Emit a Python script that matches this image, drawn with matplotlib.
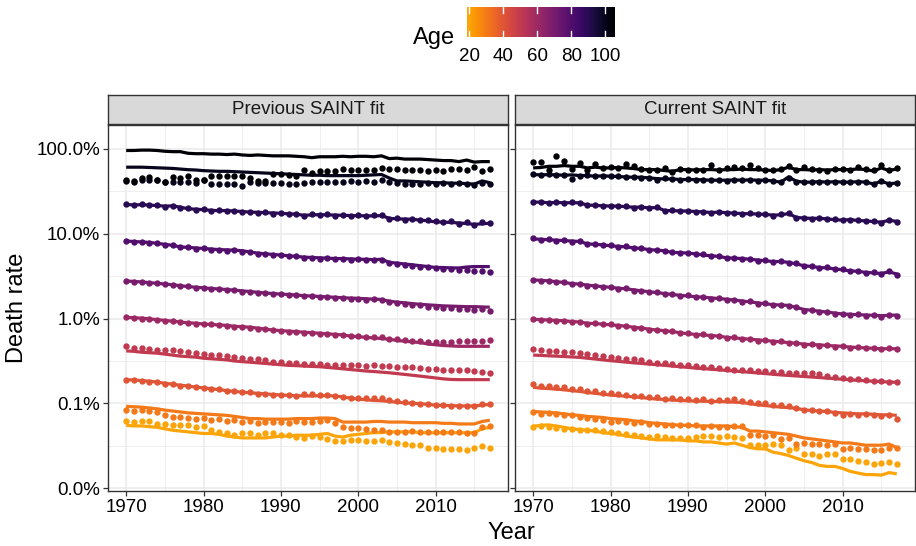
import matplotlib
matplotlib.use("Agg")
import matplotlib.pyplot as plt
import numpy as np
from matplotlib.colors import Normalize, ListedColormap
from matplotlib.ticker import FixedLocator, NullFormatter

plt.rcParams['font.family'] = ['Liberation Sans', 'DejaVu Sans']

# ---------------- data ----------------
years = list(range(1970, 2018))
ages = [20, 30, 40, 50, 60, 70, 80, 90, 100, 105]
panel_titles = ["Previous SAINT fit", "Current SAINT fit"]
y_tick_values = [0.0001, 0.001, 0.01, 0.1, 1.0]
y_tick_labels = ["0.0%", "0.1%", "1.0%", "10.0%", "100.0%"]
y_minor_values = [0.000316, 0.00316, 0.0316, 0.316]
x_tick_values = [1970, 1980, 1990, 2000, 2010]
x_minor_values = [1975, 1985, 1995, 2005, 2015]
legend_ticks = [20, 40, 60, 80, 100]

# death rates in percent, 1970..2017
# ---- Previous SAINT fit ----
prev_fit_105 = [96, 96, 97, 97, 96, 94, 93, 93, 89, 88,
                88, 87, 87, 86, 87, 85, 84, 85, 84, 83,
                83, 83, 82, 81, 79, 81, 81, 81, 82, 81,
                82, 82, 81, 83, 77, 78, 76, 76, 76, 75,
                74, 73, 73, 71, 74, 70, 71, 71]
prev_obs_105 = [42.5, 41.5, 45.6, 46.8, 43.6, 41.2, 46.8, 45.6, 47.7, 43.6,
                43.6, 47.7, 47.7, 47.7, 47.7, 47.7, 45.6, 41.5, 41.5, 51.3,
                51.3, 49.9, 48.6, 57.1, 52.2, 54.6, 54.6, 54.6, 58.2, 57.1,
                57.1, 57.1, 57.1, 59.3, 58.2, 58.2, 57.1, 56.1, 56.1, 55.6,
                57.1, 55.6, 58.7, 58.7, 56.1, 61.4, 55.6, 58.7]
prev_fit_100 = [61, 61, 61, 60.5, 60, 59.5, 59, 58, 57, 56.5,
                55.5, 55, 54.5, 54.5, 54, 53.5, 53, 52.5, 52, 51.5,
                51, 50.5, 50, 49.5, 49, 49, 48.5, 48.5, 48.5, 48.5,
                48.5, 49, 49.5, 50, 45.5, 42, 42, 41.5, 41, 40.5,
                40, 40, 39.5, 39.5, 39, 38.5, 42, 40]
prev_obs_100 = [41.7, 40.6, 42.8, 42.8, 42.8, 40.6, 40.6, 40.6, 40.6, 39.8,
                43.6, 39.1, 39.1, 39.1, 38.4, 37.0, 40.6, 39.8, 39.8, 39.8,
                39.8, 39.1, 39.1, 39.8, 40.6, 40.6, 40.6, 40.6, 41.2, 41.7,
                40.6, 41.7, 40.6, 43.6, 40.6, 39.8, 39.1, 39.1, 39.1, 39.8,
                39.1, 39.8, 39.1, 39.8, 38.4, 37.7, 39.8, 39.1]
prev_fit_90 = [22.1, 21.9, 22.0, 21.8, 21.5, 21.2, 21.3, 20.6, 19.7, 19.5,
               19.2, 18.9, 18.7, 18.8, 18.5, 18.3, 18.0, 17.9, 17.7, 17.6,
               17.4, 17.2, 17.0, 16.5, 16.7, 16.8, 16.7, 16.6, 16.5, 16.4,
               16.3, 16.3, 16.2, 16.4, 15.2, 15.0, 14.9, 14.8, 14.5, 14.2,
               13.8, 13.7, 13.6, 13.4, 13.2, 12.9, 13.1, 13.3]
prev_obs_90 = [22.3, 21.7, 22.2, 21.6, 21.8, 20.9, 21.4, 20.2, 19.9, 19.3,
               19.4, 18.7, 18.9, 18.5, 18.7, 18.0, 18.3, 17.6, 17.9, 17.3,
               17.6, 17.0, 17.2, 16.4, 16.9, 16.6, 16.9, 16.4, 16.8, 16.2,
               16.5, 16.1, 16.6, 16.8, 15.0, 15.4, 14.7, 15.0, 14.4, 14.5,
               14.1, 13.6, 14.0, 13.2, 13.7, 12.8, 13.6, 13.4]
prev_fit_80 = [8.2, 8.1, 8.0, 7.9, 7.7, 7.5, 7.3, 7.0, 6.9, 6.8,
               6.7, 6.6, 6.5, 6.45, 6.4, 6.3, 6.1, 5.9, 5.8, 5.7,
               5.6, 5.5, 5.4, 5.3, 5.25, 5.2, 5.15, 5.1, 5.1, 5.05,
               5.0, 5.0, 4.95, 5.0, 4.6, 4.5, 4.4, 4.3, 4.2, 4.1,
               4.0, 4.0, 3.95, 3.95, 4.05, 4.1, 4.1, 4.1]
prev_obs_80 = [8.3, 8.0, 8.1, 7.8, 7.7, 7.4, 7.3, 6.9, 6.9, 6.6,
               6.7, 6.5, 6.5, 6.3, 6.4, 6.1, 6.1, 5.8, 5.8, 5.6,
               5.6, 5.4, 5.4, 5.2, 5.2, 5.1, 5.15, 5.0, 5.1, 4.95,
               5.0, 4.9, 4.9, 4.9, 4.5, 4.4, 4.3, 4.2, 4.1, 4.0,
               3.95, 3.8, 3.85, 3.7, 3.75, 3.6, 3.65, 3.5]
prev_fit_70 = [2.77, 2.74, 2.70, 2.65, 2.60, 2.55, 2.50, 2.44, 2.38, 2.34,
               2.30, 2.26, 2.23, 2.20, 2.16, 2.12, 2.08, 2.04, 2.00, 1.97,
               1.94, 1.92, 1.89, 1.86, 1.84, 1.82, 1.80, 1.78, 1.76, 1.74,
               1.73, 1.71, 1.69, 1.68, 1.60, 1.56, 1.53, 1.50, 1.47, 1.45,
               1.43, 1.41, 1.40, 1.39, 1.38, 1.38, 1.37, 1.36]
prev_obs_70 = [2.78, 2.70, 2.69, 2.62, 2.61, 2.52, 2.49, 2.40, 2.39, 2.30,
               2.29, 2.22, 2.23, 2.15, 2.15, 2.08, 2.07, 2.00, 2.01, 1.94,
               1.94, 1.88, 1.88, 1.82, 1.82, 1.78, 1.79, 1.74, 1.75, 1.70,
               1.72, 1.67, 1.68, 1.66, 1.56, 1.52, 1.49, 1.45, 1.43, 1.38,
               1.38, 1.33, 1.34, 1.29, 1.31, 1.27, 1.28, 1.24]
prev_fit_60 = [1.03, 1.02, 1.01, 0.99, 0.97, 0.95, 0.93, 0.91, 0.89, 0.88,
               0.86, 0.85, 0.84, 0.83, 0.81, 0.80, 0.79, 0.77, 0.75, 0.73,
               0.72, 0.71, 0.70, 0.69, 0.68, 0.67, 0.66, 0.65, 0.64, 0.62,
               0.61, 0.60, 0.59, 0.58, 0.57, 0.55, 0.54, 0.53, 0.52, 0.50,
               0.49, 0.48, 0.475, 0.47, 0.47, 0.47, 0.47, 0.47]
prev_obs_60 = [1.03, 1.01, 1.00, 0.98, 0.96, 0.94, 0.93, 0.90, 0.88, 0.87,
               0.85, 0.85, 0.83, 0.82, 0.80, 0.79, 0.78, 0.76, 0.75, 0.73,
               0.72, 0.70, 0.70, 0.68, 0.68, 0.66, 0.66, 0.64, 0.64, 0.62,
               0.62, 0.61, 0.60, 0.60, 0.58, 0.57, 0.56, 0.55, 0.54, 0.53,
               0.53, 0.53, 0.53, 0.54, 0.54, 0.55, 0.55, 0.56]
prev_fit_50 = [0.415, 0.41, 0.40, 0.395, 0.39, 0.38, 0.37, 0.36, 0.355, 0.35,
               0.34, 0.335, 0.33, 0.325, 0.315, 0.31, 0.305, 0.30, 0.295, 0.29,
               0.285, 0.28, 0.278, 0.275, 0.272, 0.27, 0.265, 0.26, 0.255, 0.25,
               0.245, 0.24, 0.237, 0.233, 0.229, 0.224, 0.219, 0.214, 0.209, 0.204,
               0.199, 0.194, 0.191, 0.190, 0.190, 0.190, 0.190, 0.190]
prev_obs_50 = [0.47, 0.45, 0.45, 0.44, 0.43, 0.43, 0.42, 0.41, 0.40, 0.39,
               0.38, 0.37, 0.37, 0.36, 0.35, 0.34, 0.33, 0.33, 0.32, 0.31,
               0.31, 0.30, 0.30, 0.29, 0.29, 0.29, 0.28, 0.28, 0.28, 0.28,
               0.28, 0.275, 0.28, 0.275, 0.275, 0.27, 0.265, 0.265, 0.26, 0.255,
               0.255, 0.25, 0.25, 0.245, 0.245, 0.24, 0.235, 0.23]
prev_fit_40 = [0.19, 0.188, 0.185, 0.182, 0.178, 0.172, 0.168, 0.163, 0.16, 0.155,
               0.152, 0.148, 0.145, 0.141, 0.138, 0.135, 0.133, 0.131, 0.129, 0.127,
               0.125, 0.124, 0.123, 0.122, 0.122, 0.123, 0.123, 0.122, 0.119, 0.115,
               0.112, 0.11, 0.108, 0.107, 0.105, 0.103, 0.101, 0.1, 0.099, 0.097,
               0.095, 0.094, 0.094, 0.093, 0.093, 0.093, 0.095, 0.097]
prev_obs_40 = [0.19, 0.186, 0.185, 0.18, 0.18, 0.17, 0.17, 0.162, 0.161, 0.154,
               0.153, 0.146, 0.146, 0.14, 0.14, 0.134, 0.134, 0.13, 0.13, 0.125,
               0.125, 0.124, 0.122, 0.127, 0.127, 0.125, 0.126, 0.122, 0.119, 0.116,
               0.116, 0.115, 0.114, 0.115, 0.108, 0.105, 0.103, 0.101, 0.099, 0.097,
               0.096, 0.095, 0.094, 0.094, 0.093, 0.094, 0.097, 0.097]
prev_fit_30 = [0.092, 0.091, 0.090, 0.088, 0.086, 0.083, 0.081, 0.079, 0.077, 0.076,
               0.075, 0.074, 0.073, 0.072, 0.070, 0.068, 0.066, 0.066, 0.065, 0.065,
               0.065, 0.065, 0.066, 0.066, 0.066, 0.067, 0.067, 0.066, 0.060, 0.060,
               0.060, 0.060, 0.061, 0.061, 0.060, 0.060, 0.060, 0.059, 0.059, 0.059,
               0.059, 0.058, 0.058, 0.057, 0.057, 0.057, 0.061, 0.063]
prev_obs_30 = [0.084, 0.080, 0.084, 0.080, 0.079, 0.072, 0.068, 0.068, 0.067, 0.066,
               0.067, 0.064, 0.066, 0.061, 0.063, 0.060, 0.062, 0.059, 0.060, 0.060,
               0.060, 0.059, 0.061, 0.060, 0.060, 0.061, 0.063, 0.058, 0.053, 0.051,
               0.051, 0.050, 0.049, 0.048, 0.046, 0.046, 0.046, 0.047, 0.046, 0.046,
               0.046, 0.046, 0.046, 0.046, 0.045, 0.044, 0.052, 0.054]
prev_fit_20 = [0.055, 0.054, 0.054, 0.053, 0.052, 0.050, 0.048, 0.047, 0.046, 0.045,
               0.044, 0.044, 0.043, 0.041, 0.040, 0.039, 0.039, 0.039, 0.039, 0.040,
               0.041, 0.041, 0.042, 0.042, 0.042, 0.043, 0.044, 0.041, 0.040, 0.042,
               0.043, 0.044, 0.045, 0.045, 0.046, 0.046, 0.046, 0.046, 0.045, 0.045,
               0.045, 0.045, 0.045, 0.045, 0.045, 0.045, 0.050, 0.052]
prev_obs_20 = [0.061, 0.060, 0.061, 0.061, 0.057, 0.057, 0.056, 0.056, 0.055, 0.052,
               0.054, 0.048, 0.046, 0.045, 0.042, 0.044, 0.045, 0.042, 0.044, 0.044,
               0.042, 0.042, 0.040, 0.039, 0.041, 0.040, 0.038, 0.036, 0.036, 0.037,
               0.037, 0.036, 0.036, 0.037, 0.035, 0.034, 0.033, 0.032, 0.032, 0.030,
               0.030, 0.029, 0.029, 0.029, 0.028, 0.030, 0.031, 0.030]

# ---- Current SAINT fit ----
curr_fit_105 = [59.8, 60.5, 62.5, 62.5, 63.7, 62.5, 62.5, 59.8, 61.0, 59.8,
                59.8, 60.5, 59.8, 58.7, 57.1, 57.1, 57.1, 55.6, 54.6, 57.1,
                57.1, 56.5, 57.1, 57.1, 56.5, 57.1, 57.1, 58.0, 57.1, 57.1,
                56.5, 55.6, 57.1, 61.0, 57.1, 57.1, 56.5, 57.1, 56.5, 57.1,
                57.1, 57.1, 58.2, 57.1, 55.0, 59.8, 55.6, 58.2]
curr_obs_105 = [69.7, 69.7, 57.1, 82.0, 71.6, 58.0, 68.0, 57.1, 66.2, 59.8,
                61.0, 59.8, 66.9, 62.5, 58.2, 57.1, 57.1, 59.8, 53.4, 58.2,
                57.1, 57.1, 57.1, 64.6, 57.1, 59.8, 61.6, 59.8, 65.4, 59.8,
                57.1, 57.1, 58.2, 62.5, 57.1, 61.6, 58.2, 57.1, 54.6, 58.2,
                58.7, 57.1, 61.6, 58.2, 56.1, 64.1, 56.1, 59.8]
curr_fit_100 = [49.9, 49.5, 49.9, 49.5, 49.0, 49.5, 48.6, 48.6, 47.7, 48.2,
                47.7, 47.3, 46.8, 46.4, 46.4, 45.6, 44.7, 44.3, 44.3, 43.6,
                43.6, 43.6, 43.2, 42.8, 42.8, 42.8, 43.2, 42.8, 43.2, 42.8,
                42.8, 42.0, 40.6, 46.8, 41.7, 40.6, 40.6, 41.2, 40.6, 41.2,
                40.6, 40.6, 41.2, 40.6, 38.7, 41.7, 38.7, 39.8]
curr_obs_100 = [51.3, 49.5, 50.5, 49.5, 49.0, 44.3, 48.6, 49.0, 48.2, 47.7,
                47.7, 48.2, 46.4, 46.8, 46.0, 45.6, 43.6, 45.0, 44.3, 43.2,
                44.3, 43.2, 43.6, 43.2, 42.8, 42.4, 43.6, 42.8, 43.6, 42.4,
                42.8, 41.7, 40.6, 46.0, 41.2, 40.6, 41.2, 40.6, 41.2, 40.6,
                41.2, 40.6, 40.6, 40.6, 38.7, 42.4, 38.4, 39.8]
curr_fit_90 = [23.6, 23.6, 23.2, 23.4, 23.2, 23.2, 23.2, 21.8, 21.6, 21.4,
               21.2, 21.2, 20.8, 20.6, 20.6, 20.2, 20.4, 18.8, 18.7, 18.6,
               18.5, 18.3, 18.1, 17.8, 18.0, 17.7, 17.5, 17.3, 17.2, 17.1,
               16.9, 16.6, 16.7, 17.3, 15.6, 15.3, 15.2, 15.2, 15.0, 14.6,
               14.5, 14.7, 14.3, 14.2, 13.9, 13.7, 14.4, 14.0]
curr_obs_90 = [23.4, 23.8, 23.0, 23.6, 22.9, 23.4, 23.0, 21.6, 21.9, 21.2,
               21.4, 21.0, 21.0, 20.4, 20.8, 20.0, 20.5, 18.6, 18.9, 18.4,
               18.7, 18.1, 18.3, 17.6, 18.2, 17.5, 17.7, 17.1, 17.4, 16.9,
               17.1, 16.4, 16.9, 17.5, 15.4, 15.5, 15.0, 15.4, 14.8, 14.8,
               14.7, 14.5, 14.5, 14.0, 14.1, 13.5, 14.6, 13.8]
curr_fit_80 = [8.7, 8.6, 8.5, 8.4, 8.3, 8.2, 8.1, 7.6, 7.5, 7.4,
               7.2, 7.1, 7.0, 6.8, 6.7, 6.5, 6.4, 6.3, 6.0, 6.0,
               5.9, 5.8, 5.6, 5.5, 5.4, 5.2, 5.15, 5.1, 5.0, 4.9,
               4.8, 4.7, 4.7, 4.6, 4.4, 4.2, 4.1, 4.0, 3.95, 3.85,
               3.75, 3.65, 3.6, 3.5, 3.45, 3.4, 3.55, 3.35]
curr_obs_80 = [8.8, 8.5, 8.6, 8.3, 8.4, 8.1, 8.2, 7.6, 7.6, 7.3,
               7.3, 7.0, 7.1, 6.7, 6.8, 6.4, 6.5, 6.2, 6.1, 5.9,
               6.0, 5.7, 5.7, 5.4, 5.5, 5.2, 5.2, 5.0, 5.1, 4.8,
               4.9, 4.6, 4.8, 4.5, 4.5, 4.2, 4.2, 3.95, 4.0, 3.8,
               3.8, 3.6, 3.65, 3.45, 3.5, 3.35, 3.6, 3.3]
curr_fit_70 = [2.85, 2.82, 2.78, 2.72, 2.66, 2.58, 2.55, 2.48, 2.42, 2.38,
               2.33, 2.28, 2.24, 2.18, 2.12, 2.07, 2.02, 1.97, 1.92, 1.88,
               1.84, 1.81, 1.78, 1.75, 1.72, 1.69, 1.65, 1.61, 1.57, 1.53,
               1.49, 1.46, 1.44, 1.43, 1.35, 1.28, 1.25, 1.22, 1.19, 1.16,
               1.13, 1.12, 1.11, 1.10, 1.09, 1.08, 1.09, 1.10]
curr_obs_70 = [2.86, 2.78, 2.79, 2.68, 2.68, 2.53, 2.57, 2.44, 2.44, 2.34,
               2.35, 2.24, 2.26, 2.13, 2.14, 2.03, 2.05, 1.93, 1.94, 1.84,
               1.87, 1.77, 1.80, 1.71, 1.74, 1.65, 1.67, 1.57, 1.59, 1.49,
               1.51, 1.43, 1.46, 1.41, 1.36, 1.24, 1.26, 1.19, 1.20, 1.13,
               1.14, 1.10, 1.12, 1.07, 1.10, 1.05, 1.10, 1.08]
curr_fit_60 = [0.98, 0.97, 0.96, 0.95, 0.94, 0.92, 0.91, 0.88, 0.87, 0.86,
               0.84, 0.83, 0.81, 0.79, 0.77, 0.75, 0.73, 0.72, 0.70, 0.68,
               0.66, 0.65, 0.64, 0.63, 0.62, 0.60, 0.59, 0.58, 0.57, 0.56,
               0.55, 0.54, 0.53, 0.52, 0.51, 0.50, 0.49, 0.49, 0.48, 0.475,
               0.47, 0.46, 0.455, 0.45, 0.445, 0.44, 0.44, 0.44]
curr_obs_60 = [0.99, 0.96, 0.97, 0.94, 0.94, 0.91, 0.91, 0.87, 0.88, 0.85,
               0.85, 0.82, 0.82, 0.78, 0.78, 0.74, 0.74, 0.71, 0.71, 0.67,
               0.67, 0.64, 0.65, 0.62, 0.63, 0.59, 0.60, 0.57, 0.58, 0.55,
               0.56, 0.53, 0.54, 0.51, 0.52, 0.49, 0.50, 0.48, 0.49, 0.465,
               0.475, 0.45, 0.46, 0.445, 0.45, 0.435, 0.45, 0.44]
curr_fit_50 = [0.37, 0.367, 0.363, 0.36, 0.356, 0.352, 0.348, 0.34, 0.333, 0.325,
               0.318, 0.312, 0.306, 0.30, 0.295, 0.29, 0.285, 0.28, 0.275, 0.27,
               0.265, 0.26, 0.256, 0.252, 0.248, 0.244, 0.24, 0.236, 0.232, 0.228,
               0.224, 0.22, 0.216, 0.213, 0.21, 0.207, 0.204, 0.201, 0.198, 0.195,
               0.192, 0.189, 0.186, 0.184, 0.182, 0.18, 0.178, 0.177]
curr_obs_50 = [0.435, 0.42, 0.415, 0.41, 0.405, 0.40, 0.39, 0.38, 0.37, 0.365,
               0.35, 0.345, 0.335, 0.33, 0.32, 0.31, 0.30, 0.295, 0.29, 0.285,
               0.28, 0.275, 0.27, 0.265, 0.26, 0.255, 0.25, 0.245, 0.245, 0.24,
               0.24, 0.235, 0.235, 0.23, 0.23, 0.23, 0.225, 0.22, 0.21, 0.205,
               0.20, 0.195, 0.195, 0.19, 0.185, 0.185, 0.18, 0.177]
curr_fit_40 = [0.154, 0.151, 0.149, 0.147, 0.144, 0.141, 0.138, 0.134, 0.131, 0.128,
               0.125, 0.123, 0.121, 0.119, 0.117, 0.114, 0.112, 0.111, 0.109, 0.108,
               0.107, 0.106, 0.106, 0.105, 0.105, 0.104, 0.103, 0.102, 0.099, 0.096,
               0.094, 0.092, 0.090, 0.089, 0.087, 0.084, 0.082, 0.081, 0.080, 0.078,
               0.077, 0.076, 0.075, 0.075, 0.074, 0.073, 0.073, 0.072]
curr_obs_40 = [0.169, 0.162, 0.161, 0.156, 0.155, 0.146, 0.147, 0.139, 0.139, 0.132,
               0.131, 0.127, 0.126, 0.121, 0.121, 0.117, 0.117, 0.112, 0.114, 0.111,
               0.112, 0.109, 0.111, 0.107, 0.110, 0.109, 0.111, 0.106, 0.103, 0.100,
               0.100, 0.095, 0.096, 0.094, 0.087, 0.084, 0.083, 0.080, 0.080, 0.077,
               0.073, 0.075, 0.073, 0.074, 0.072, 0.071, 0.072, 0.066]
curr_fit_30 = [0.080, 0.079, 0.078, 0.077, 0.075, 0.073, 0.072, 0.070, 0.069, 0.068,
               0.066, 0.065, 0.064, 0.062, 0.061, 0.059, 0.058, 0.057, 0.056, 0.055,
               0.055, 0.054, 0.054, 0.054, 0.054, 0.054, 0.053, 0.052, 0.047, 0.047,
               0.046, 0.045, 0.044, 0.043, 0.041, 0.039, 0.038, 0.037, 0.036, 0.035,
               0.034, 0.034, 0.033, 0.032, 0.032, 0.032, 0.033, 0.030]
curr_obs_30 = [0.079, 0.075, 0.077, 0.074, 0.073, 0.072, 0.068, 0.067, 0.066, 0.064,
               0.060, 0.061, 0.060, 0.059, 0.060, 0.057, 0.057, 0.056, 0.055, 0.056,
               0.055, 0.055, 0.053, 0.054, 0.052, 0.052, 0.054, 0.054, 0.042, 0.042,
               0.041, 0.042, 0.038, 0.039, 0.033, 0.034, 0.033, 0.033, 0.032, 0.033,
               0.029, 0.030, 0.029, 0.029, 0.028, 0.028, 0.030, 0.030]
curr_fit_20 = [0.0535, 0.055, 0.0556, 0.054, 0.052, 0.050, 0.049, 0.048, 0.047, 0.045,
               0.044, 0.043, 0.041, 0.040, 0.039, 0.038, 0.037, 0.037, 0.037, 0.037,
               0.036, 0.036, 0.035, 0.035, 0.034, 0.033, 0.034, 0.032, 0.030, 0.029,
               0.029, 0.0265, 0.0255, 0.0242, 0.0225, 0.021, 0.020, 0.0185, 0.018, 0.018,
               0.017, 0.0157, 0.015, 0.0144, 0.0144, 0.0142, 0.0152, 0.0147]
curr_obs_20 = [0.053, 0.054, 0.052, 0.051, 0.050, 0.050, 0.049, 0.049, 0.048, 0.047,
               0.046, 0.045, 0.043, 0.042, 0.041, 0.040, 0.041, 0.040, 0.039, 0.039,
               0.039, 0.040, 0.041, 0.041, 0.040, 0.041, 0.040, 0.039, 0.032, 0.032,
               0.032, 0.033, 0.032, 0.028, 0.030, 0.0255, 0.025, 0.024, 0.025, 0.0255,
               0.022, 0.022, 0.0206, 0.0203, 0.0193, 0.0198, 0.0203, 0.0193]

prev_fit = {20: prev_fit_20, 30: prev_fit_30, 40: prev_fit_40, 50: prev_fit_50,
            60: prev_fit_60, 70: prev_fit_70, 80: prev_fit_80, 90: prev_fit_90,
            100: prev_fit_100, 105: prev_fit_105}
prev_obs = {20: prev_obs_20, 30: prev_obs_30, 40: prev_obs_40, 50: prev_obs_50,
            60: prev_obs_60, 70: prev_obs_70, 80: prev_obs_80, 90: prev_obs_90,
            100: prev_obs_100, 105: prev_obs_105}
curr_fit = {20: curr_fit_20, 30: curr_fit_30, 40: curr_fit_40, 50: curr_fit_50,
            60: curr_fit_60, 70: curr_fit_70, 80: curr_fit_80, 90: curr_fit_90,
            100: curr_fit_100, 105: curr_fit_105}
curr_obs = {20: curr_obs_20, 30: curr_obs_30, 40: curr_obs_40, 50: curr_obs_50,
            60: curr_obs_60, 70: curr_obs_70, 80: curr_obs_80, 90: curr_obs_90,
            100: curr_obs_100, 105: curr_obs_105}
panels = [(prev_fit, prev_obs), (curr_fit, curr_obs)]

# ---------------- style / layout ----------------
W, H = 916, 546
DPI = 100
fig = plt.figure(figsize=(W / DPI, H / DPI), dpi=DPI)
fig.patch.set_facecolor('white')

def px_axes(x0, y0, x1, y1):
    return fig.add_axes([x0 / W, 1 - y1 / H, (x1 - x0) / W, (y1 - y0) / H])

base = plt.get_cmap('inferno')
cmap = ListedColormap(base(np.linspace(0.0, 0.8, 256))[::-1])
norm = Normalize(vmin=20, vmax=105)

TICK_FS = 13.5
TITLE_FS = 17
BORDER = '#333333'
GRID = '#EBEBEB'

panel_x = [(108, 508), (515, 915)]
PANEL_TOP, PANEL_BOT = 125, 491
STRIP_TOP = 95
XLIM = (1967.65, 2019.35)
YLIM = (10 ** -4.035, 10 ** 0.283)

for i, ((x0, x1), (fit, obs)) in enumerate(zip(panel_x, panels)):
    ax = px_axes(x0, PANEL_TOP, x1, PANEL_BOT)
    ax.set_yscale('log')
    ax.set_xlim(*XLIM)
    ax.set_ylim(*YLIM)
    ax.yaxis.set_major_locator(FixedLocator(y_tick_values))
    ax.yaxis.set_minor_locator(FixedLocator(y_minor_values))
    ax.yaxis.set_minor_formatter(NullFormatter())
    ax.xaxis.set_major_locator(FixedLocator(x_tick_values))
    ax.xaxis.set_minor_locator(FixedLocator(x_minor_values))
    ax.grid(which='major', color=GRID, lw=1.1, zorder=0)
    ax.grid(which='minor', color=GRID, lw=0.55, zorder=0)
    ax.set_axisbelow(True)
    for sp in ax.spines.values():
        sp.set_color(BORDER)
        sp.set_linewidth(1.0)
        sp.set_zorder(5)
    ax.tick_params(which='major', direction='out', length=3.5, width=0.9,
                   color=BORDER, labelsize=TICK_FS, labelcolor='black', pad=2)
    ax.tick_params(which='minor', length=0)
    ax.set_xticklabels([str(v) for v in x_tick_values])
    if i == 0:
        ax.set_yticklabels(y_tick_labels)
    else:
        ax.set_yticklabels([])

    for age in ages:
        c = cmap(norm(age))
        ax.plot(years, np.array(fit[age]) / 100.0, color=c, lw=2.3,
                solid_joinstyle='round', solid_capstyle='butt', zorder=2)
    for age in ages:
        c = cmap(norm(age))
        ax.scatter(years, np.array(obs[age]) / 100.0, s=21, color=c,
                   linewidths=0, zorder=3)

    # strip
    sax = px_axes(x0, STRIP_TOP, x1, PANEL_TOP - 1)
    sax.set_facecolor('#D9D9D9')
    sax.set_xticks([])
    sax.set_yticks([])
    for sp in sax.spines.values():
        sp.set_color(BORDER)
        sp.set_linewidth(1.0)
    sax.text(0.5, 0.5, panel_titles[i], ha='center', va='center',
             fontsize=TICK_FS, color='#1A1A1A', transform=sax.transAxes)

# axis titles
fig.text(17 / W, 1 - 308 / H, "Death rate", rotation=90, ha='center',
         va='center', fontsize=TITLE_FS)
fig.text(((108 + 915) / 2) / W, 1 - 533 / H, "Year", ha='center',
         va='center', fontsize=TITLE_FS)

# colour legend
CB_LO = 18.8
cax = px_axes(467, 7, 614, 37)
grad = np.linspace(CB_LO, norm.vmax, 300)[None, :]
cax.imshow(grad, extent=[CB_LO, norm.vmax, 0, 1], aspect='auto',
           cmap=cmap, norm=norm, interpolation='bilinear')
cax.set_xlim(CB_LO, norm.vmax)
cax.set_ylim(0, 1)
for t in legend_ticks:
    cax.plot([t, t], [0, 0.2], color='white', lw=1.0)
    cax.plot([t, t], [0.8, 1], color='white', lw=1.0)
for sp in cax.spines.values():
    sp.set_visible(False)
cax.set_yticks([])
cax.set_xticks(legend_ticks)
cax.set_xticklabels([str(t) for t in legend_ticks])
cax.tick_params(axis='x', length=0, labelsize=TICK_FS, pad=8)
fig.text(455 / W, 1 - 38 / H, "Age", ha='right', va='center', fontsize=TITLE_FS)

fig.savefig("out.png", dpi=DPI, facecolor='white')
